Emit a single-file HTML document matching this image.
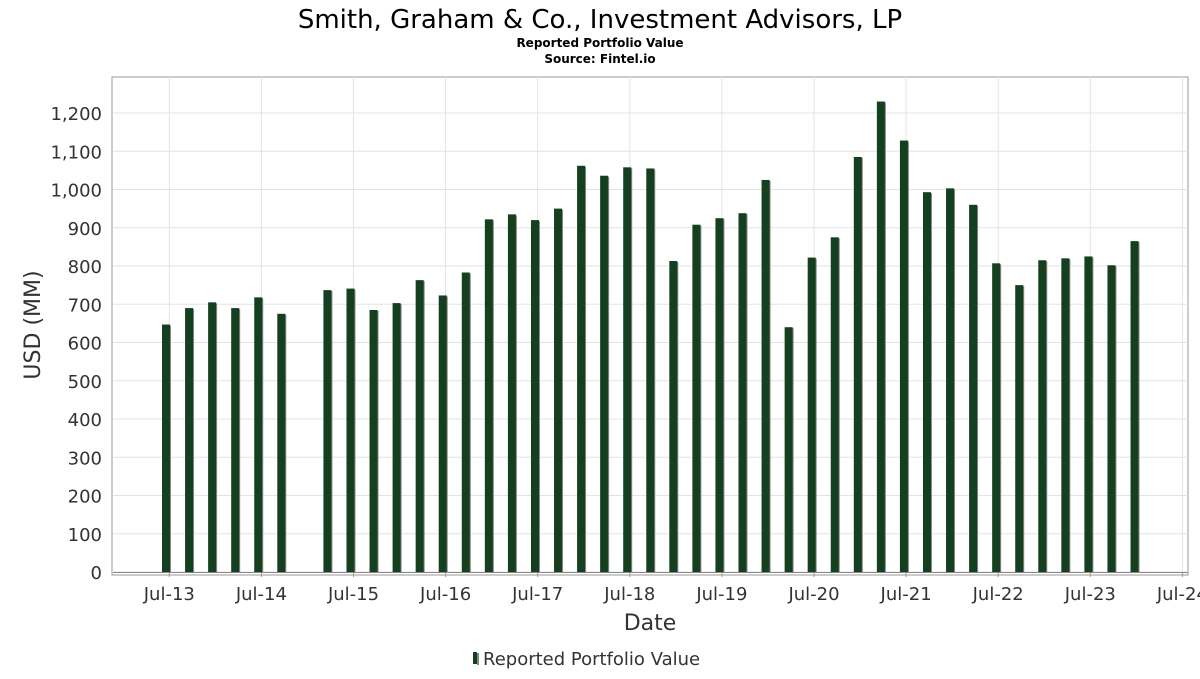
<!DOCTYPE html>
<html><head><meta charset="utf-8"><style>
body{margin:0;background:#fff;width:1200px;height:675px;overflow:hidden;font-family:"DejaVu Sans","Liberation Sans",sans-serif}
</style></head><body>
<svg width="1200" height="675" xmlns="http://www.w3.org/2000/svg">
<text x="600" y="28" text-anchor="middle" font-size="26" fill="#000">Smith, Graham &amp; Co., Investment Advisors, LP</text>
<text x="600" y="47" text-anchor="middle" font-size="12" font-weight="bold" fill="#000">Reported Portfolio Value</text>
<text x="600" y="63" text-anchor="middle" font-size="12" font-weight="bold" fill="#000">Source: Fintel.io</text>
<rect x="112" y="77" width="1076" height="498" fill="none" stroke="#999"/>
<g id="grid"></g><g id="bars"></g><g id="axes"></g>
<text x="40" y="325" text-anchor="middle" font-size="22" fill="#333" transform="rotate(-90 40 325)">USD (MM)</text>
<text x="650" y="630" text-anchor="middle" font-size="22" fill="#333">Date</text>
<g>
<rect x="473" y="652" width="4" height="12" fill="#15401f"/><rect x="477" y="653" width="2" height="12" fill="#888"/>
<text x="483" y="665" font-size="18" fill="#333">Reported Portfolio Value</text></g>
</svg>
<script>
const values=[647,690,705,690,718,675,null,737,741,685,703,763,723,783,922,935,920,950,1062,1036,1058,1055,813,908,925,938,1025,640,822,875,1085,1230,1128,993,1003,960,807,750,815,820,825,802,865];
const yTicks=[0,100,200,300,400,500,600,700,800,900,1000,1100,1200];
const xTickLabels=["Jul-13","Jul-14","Jul-15","Jul-16","Jul-17","Jul-18","Jul-19","Jul-20","Jul-21","Jul-22","Jul-23","Jul-24"];
const NS="http://www.w3.org/2000/svg";
const y=v=>572-v*(459/1200);
const xb=i=>166+i*23.06;
const xt=k=>169.3+k*92.1;
function mk(t,a,p){const e=document.createElementNS(NS,t);for(const k in a)e.setAttribute(k,a[k]);p.appendChild(e);return e;}
const grid=document.getElementById('grid'),bars=document.getElementById('bars'),axes=document.getElementById('axes');
yTicks.forEach(v=>{
 const l=mk('line',{x1:113,x2:1188,y1:y(v),y2:y(v),stroke:'#e3e3e3'},grid);
 
 
 const t=mk('text',{x:102,y:y(v)+7,'text-anchor':'end','font-size':18,fill:'#333'},axes);
 t.textContent=v.toLocaleString('en-US');
 
 
});
xTickLabels.forEach((s,k)=>{
 const x=xt(k);
 const g=mk('line',{x1:x,x2:x,y1:77,y2:572,stroke:'#e3e3e3'},grid);
 
 
 const tk=mk('line',{x1:x,x2:x,y1:572,y2:577,stroke:'#999'},axes);
 
 
 const t=mk('text',{x:x,y:600,'text-anchor':'middle','font-size':18,fill:'#333'},axes);
 t.textContent=s;
 
 
});
const ax=mk('line',{x1:113,x2:1188,y1:572.5,y2:572.5,stroke:'#888'},axes);


values.forEach((v,i)=>{
 if(v==null)return;
 const x=xb(i);
 const s=mk('rect',{x:x-3,y:y(v)+1,width:8,height:572-y(v)-1,fill:'#888'},bars);
 
 
 const b=mk('rect',{x:x-4,y:y(v),width:8,height:572-y(v),fill:'#15401f'},bars);
 
 
});
</script>
</body></html>
